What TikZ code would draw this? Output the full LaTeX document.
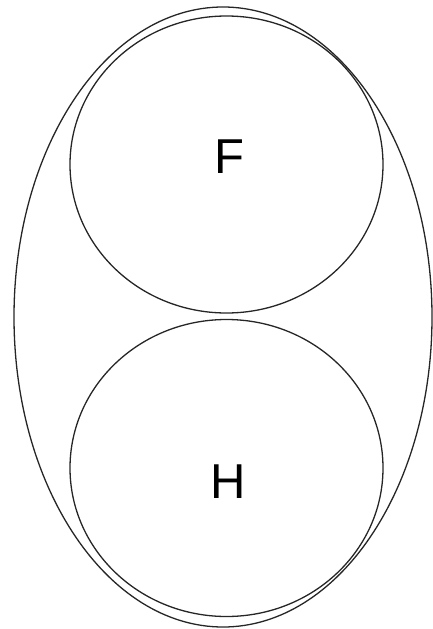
\documentclass[tikz,border=0pt]{standalone}
\usepackage{fontspec}
\setmainfont{Liberation Sans}
\usetikzlibrary{shapes.geometric, positioning}
\tikzset{
    % Set styles
    outerset/.style={
        ellipse,
        draw=black!85,
        line width=1.3pt,
        inner sep=0pt,
        minimum width=418pt,
        minimum height=620pt
    },
    innerset/.style={
        ellipse,
        draw=black!85,
        line width=1.3pt,
        inner sep=0pt,
        minimum width=313pt,
        minimum height=297pt
    },
    setlabel/.style={
        font=\fontsize{49}{49}\selectfont,
        inner sep=0pt
    }
}
\begin{document}
\begin{tikzpicture}[x=1pt, y=-1pt]
    \useasboundingbox (0,0) rectangle (433,629);

    % Outer set
    \node[outerset] (whole) at (223,317) {};

    % Inner sets
    \node[innerset] (setF) at (226.5,164.5) {};
    \node[innerset] (setH) at (226.5,468) {};

    % Labels
    \node[setlabel] (labelF) at (229,157) {F};
    \node[setlabel] (labelH) at (228,482) {H};
\end{tikzpicture}
\end{document}
